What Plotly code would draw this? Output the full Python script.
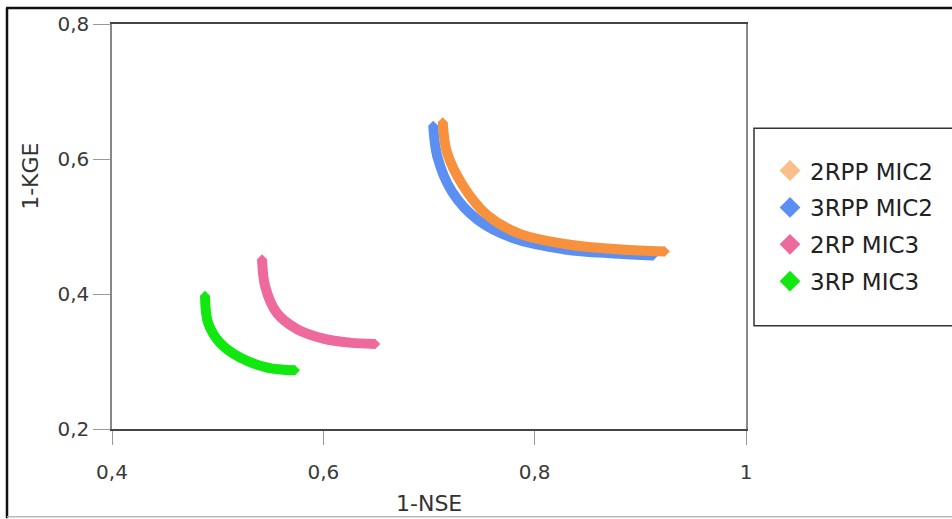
import plotly.graph_objects as go

# ---- data ----
series_names = ["2RPP MIC2", "3RPP MIC2", "2RP MIC3", "3RP MIC3"]

nse_2rpp_mic2 = [0.713, 0.717, 0.732, 0.755, 0.786, 0.833, 0.881, 0.923]
kge_2rpp_mic2 = [0.654, 0.610, 0.561, 0.517, 0.489, 0.473, 0.466, 0.463]

nse_3rpp_mic2 = [0.704, 0.708, 0.722, 0.746, 0.781, 0.829, 0.876, 0.912]
kge_3rpp_mic2 = [0.649, 0.603, 0.551, 0.510, 0.482, 0.466, 0.460, 0.457]

nse_2rp_mic3 = [0.542, 0.545, 0.556, 0.575, 0.600, 0.625, 0.649]
kge_2rp_mic3 = [0.451, 0.411, 0.372, 0.348, 0.334, 0.328, 0.326]

nse_3rp_mic3 = [0.488, 0.491, 0.502, 0.521, 0.547, 0.573]
kge_3rp_mic3 = [0.397, 0.357, 0.328, 0.306, 0.291, 0.287]

x_ticks = [0.4, 0.6, 0.8, 1.0]
x_tick_labels = ["0,4", "0,6", "0,8", "1"]
y_ticks = [0.2, 0.4, 0.6, 0.8]
y_tick_labels = ["0,2", "0,4", "0,6", "0,8"]

# ---- styling ----
line_colors = {"2RPP MIC2": "#F7913D", "3RPP MIC2": "#5B8FF2",
               "2RP MIC3": "#EF6A9C", "3RP MIC3": "#10E810"}
legend_colors = {"2RPP MIC2": "#F9BE8A", "3RPP MIC2": "#5B8FF2",
                 "2RP MIC3": "#EF6A9C", "3RP MIC3": "#10E810"}
FONT = "DejaVu Sans"

W, H = 952, 519
L, R, T, B = 112, 746, 21, 429  # plot area in pixels


def px(xp):
    return (xp - L) / (R - L)


def py(yp):
    return (B - yp) / (B - T)


fig = go.Figure()

data = [
    ("3RPP MIC2", nse_3rpp_mic2, kge_3rpp_mic2),
    ("2RPP MIC2", nse_2rpp_mic2, kge_2rpp_mic2),
    ("2RP MIC3", nse_2rp_mic3, kge_2rp_mic3),
    ("3RP MIC3", nse_3rp_mic3, kge_3rp_mic3),
]
for name, xs, ys in data:
    fig.add_trace(go.Scatter(
        x=xs, y=ys, mode="lines+markers", name=name, showlegend=False,
        line=dict(color=line_colors[name], width=10, shape="spline", smoothing=1.0),
        marker=dict(symbol="diamond", size=8, color=line_colors[name]),
        hoverinfo="x+y+name",
    ))

# legend-only entries (diamond symbols)
for i, name in enumerate(series_names):
    fig.add_trace(go.Scatter(
        x=[None], y=[None], mode="markers", name=name,
        legendgroup=f"g{i}",
        marker=dict(symbol="diamond", size=16, color=legend_colors[name]),
    ))

fig.update_layout(
    width=W, height=H,
    margin=dict(l=L, r=W - R, t=T, b=H - B),
    paper_bgcolor="white", plot_bgcolor="white",
    font=dict(family=FONT, color="#333333"),
    showlegend=True,
    legend=dict(
        x=px(770), y=py(147), xanchor="left", yanchor="top",
        bgcolor="rgba(0,0,0,0)", borderwidth=0,
        font=dict(family=FONT, size=23, color="#222222"),
        traceorder="grouped", tracegroupgap=4,
        itemwidth=30,
    ),
    xaxis=dict(
        range=[0.4, 1.0], tickvals=x_ticks, ticktext=x_tick_labels,
        showgrid=False, zeroline=False,
        showline=True, linecolor="#444444", linewidth=1.5, mirror=True,
        ticks="outside", ticklen=14, tickcolor="#999999", tickwidth=1,
        ticklabelstandoff=10,
        tickfont=dict(family=FONT, size=20, color="#3a3a3a"),
    ),
    yaxis=dict(
        range=[0.2, 0.8], tickvals=y_ticks, ticktext=y_tick_labels,
        showgrid=False, zeroline=False,
        showline=True, linecolor="#888888", linewidth=1.5, mirror=True,
        ticks="outside", ticklen=17, tickcolor="#999999", tickwidth=1,
        tickfont=dict(family=FONT, size=20, color="#3a3a3a"),
    ),
    annotations=[
        dict(text="1-NSE", x=0.5, y=py(504), xref="paper", yref="paper",
             showarrow=False, xanchor="center", yanchor="middle",
             font=dict(family=FONT, size=22, color="#333333")),
        dict(text="1-KGE", x=px(31), y=py(175), xref="paper", yref="paper",
             showarrow=False, xanchor="center", yanchor="middle", textangle=-90,
             font=dict(family=FONT, size=22, color="#333333")),
    ],
    shapes=[
        # legend frame (runs off the right edge)
        dict(type="rect", xref="paper", yref="paper",
             x0=px(754), x1=px(970), y0=py(325), y1=py(126),
             line=dict(color="#333333", width=1.5), fillcolor="rgba(0,0,0,0)"),
        # outer chart frame: top and left black, bottom light gray, no right edge
        dict(type="line", xref="paper", yref="paper",
             x0=px(6), x1=px(960), y0=py(5), y1=py(5),
             line=dict(color="#111111", width=2.5)),
        dict(type="line", xref="paper", yref="paper",
             x0=px(7), x1=px(7), y0=py(5), y1=py(519),
             line=dict(color="#111111", width=2.5)),
        dict(type="line", xref="paper", yref="paper",
             x0=px(7), x1=px(960), y0=py(517.5), y1=py(517.5),
             line=dict(color="#BBBBBB", width=1.5)),
    ],
)

fig.write_html(
    "out.html",
    config={"displayModeBar": False},
    post_script="document.body.style.margin='0px';document.body.style.overflow='hidden';",
)
